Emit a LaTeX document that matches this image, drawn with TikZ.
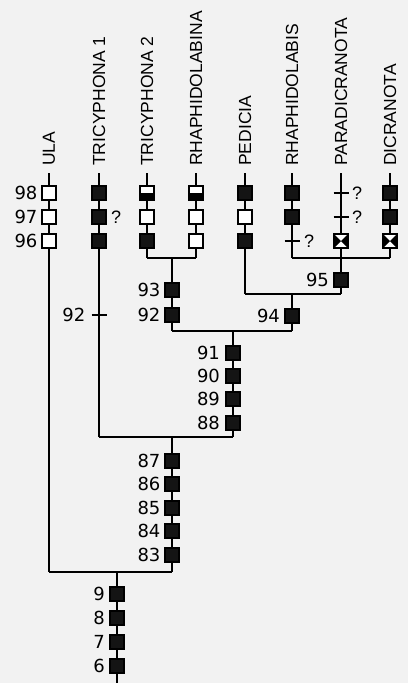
\documentclass[tikz,border=0pt]{standalone}
\usepackage{fontspec}
\setmainfont{Liberation Sans}
\newfontfamily\numfont{DejaVu Sans}
\begin{document}
\begin{tikzpicture}[x=1pt,y=-1pt,
  conn/.style={line width=1.5pt},
  sqbox/.style={rectangle, draw, line width=1.9pt, minimum size=13.8pt, inner sep=0pt},
  fbox/.style={sqbox, fill=black!92},
  obox/.style={sqbox, fill=white},
  hbox/.style={sqbox, fill=white, path picture={\fill[black] (path picture bounding box.west) rectangle (path picture bounding box.south east);}},
  xbox/.style={sqbox, fill=white, path picture={
     \fill[black] (path picture bounding box.north west) -- (path picture bounding box.center) -- (path picture bounding box.south west) -- cycle;
     \fill[black] (path picture bounding box.north east) -- (path picture bounding box.center) -- (path picture bounding box.south east) -- cycle;}},
  taxon/.style={rotate=90, anchor=west, inner sep=0pt, font=\fontsize{17.5}{18}\selectfont},
  num/.style={anchor=east, inner sep=0pt, font=\numfont\fontsize{18}{20}\selectfont},
  qm/.style={anchor=west, inner sep=0pt, font=\fontsize{18}{19}\selectfont},
]
\fill[black!5] (0,0) rectangle (408,683);
\useasboundingbox (0,0) rectangle (408,683);

% taxon labels
\node[taxon] (lULA) at (49,166) {ULA};
\node[taxon] (lT1) at (99,166) {TRICYPHONA 1};
\node[taxon] (lT2) at (147,166) {TRICYPHONA 2};
\node[taxon] (lRB) at (196,166) {RHAPHIDOLABINA};
\node[taxon] (lPE) at (245,166) {PEDICIA};
\node[taxon] (lRS) at (292,166) {RHAPHIDOLABIS};
\node[taxon] (lPA) at (341,166) {PARADICRANOTA};
\node[taxon] (lDI) at (390,166) {DICRANOTA};

% coordinates
\coordinate (tULA) at (49,173);
\coordinate (tT1) at (99,173);
\coordinate (tT2) at (147,173);
\coordinate (tRB) at (196,173);
\coordinate (tPE) at (245,173);
\coordinate (tRS) at (292,173);
\coordinate (tPA) at (341,173);
\coordinate (tDI) at (390,173);

\coordinate (jULA) at (49,572);
\coordinate (jT1) at (99,437);
\coordinate (jT2) at (147,258);
\coordinate (jRB) at (196,258);
\coordinate (jA) at (172,258);
\coordinate (jB) at (172,331);
\coordinate (jPE) at (245,294);
\coordinate (jRS) at (292,258);
\coordinate (jPA) at (341,258);
\coordinate (jDI) at (390,258);
\coordinate (jC) at (341,294);
\coordinate (jD) at (292,294);
\coordinate (jE) at (292,331);
\coordinate (jF) at (233,331);
\coordinate (jG) at (233,437);
\coordinate (jH) at (172,437);
\coordinate (jI) at (172,572);
\coordinate (jJ) at (117,572);
\coordinate (root) at (117,683);

% connectors
\draw[conn] (tULA) -- (jULA);
\draw[conn] (tT1) -- (jT1);
\draw[conn] (tT2) -- (jT2);
\draw[conn] (tRB) -- (jRB);
\draw[conn] (jT2) -- (jRB);
\draw[conn] (jA) -- (jB);
\draw[conn] (tPE) -- (jPE);
\draw[conn] (tRS) -- (jRS);
\draw[conn] (tPA) -- (jC);
\draw[conn] (tDI) -- (jDI);
\draw[conn] (jRS) -- (jDI);
\draw[conn] (jPE) -- (jC);
\draw[conn] (jD) -- (jE);
\draw[conn] (jB) -- (jE);
\draw[conn] (jF) -- (jG);
\draw[conn] (jT1) -- (jG);
\draw[conn] (jH) -- (jI);
\draw[conn] (jULA) -- (jI);
\draw[conn] (jJ) -- (root);

% top rows
\node[obox] (ula98) at (49,193) {};
\node[obox] (ula97) at (49,217) {};
\node[obox] (ula96) at (49,241) {};
\node[num] (l98) at ([xshift=-3.5pt]ula98.west) {98};
\node[num] (l97) at ([xshift=-3.5pt]ula97.west) {97};
\node[num] (l96) at ([xshift=-3.5pt]ula96.west) {96};

\node[fbox] (t198) at (99,193) {};
\node[fbox] (t197) at (99,217) {};
\node[fbox] (t196) at (99,241) {};
\node[qm] (qt1) at ([xshift=4pt]t197.east) {?};

\node[hbox] (t298) at (147,193) {};
\node[obox] (t297) at (147,217) {};
\node[fbox] (t296) at (147,241) {};

\node[hbox] (rb98) at (196,193) {};
\node[obox] (rb97) at (196,217) {};
\node[obox] (rb96) at (196,241) {};

\node[fbox] (pe98) at (245,193) {};
\node[obox] (pe97) at (245,217) {};
\node[fbox] (pe96) at (245,241) {};

\node[fbox] (rs98) at (292,193) {};
\node[fbox] (rs97) at (292,217) {};
\coordinate (rs96) at (292,241);
\draw[conn] ([xshift=-7.5pt]rs96) -- ([xshift=7.5pt]rs96);
\node[qm] (qrs) at ([xshift=12pt]rs96) {?};

\coordinate (pa98) at (341,193);
\coordinate (pa97) at (341,217);
\draw[conn] ([xshift=-7.5pt]pa98) -- ([xshift=7.5pt]pa98);
\draw[conn] ([xshift=-7.5pt]pa97) -- ([xshift=7.5pt]pa97);
\node[qm] (qpa98) at ([xshift=11pt]pa98) {?};
\node[qm] (qpa97) at ([xshift=11pt]pa97) {?};
\node[xbox] (pa96) at (341,241) {};

\node[fbox] (di98) at (390,193) {};
\node[fbox] (di97) at (390,217) {};
\node[xbox] (di96) at (390,241) {};

% internal nodes
\node[fbox] (n93) at (172,290) {};
\node[fbox] (n92) at (172,315) {};
\node[num] (l93) at ([xshift=-3.5pt]n93.west) {93};
\node[num] (l92) at ([xshift=-3.5pt]n92.west) {92};
\coordinate (q92) at (99,315);
\draw[conn] ([xshift=-7.5pt]q92) -- ([xshift=7.5pt]q92);
\node[num] (l92b) at ([xshift=-13.5pt]q92) {92};

\node[fbox] (n95) at (341,280) {};
\node[num] (l95) at ([xshift=-4pt]n95.west) {95};
\node[fbox] (n94) at (292,316) {};
\node[num] (l94) at ([xshift=-4pt]n94.west) {94};

\node[fbox] (n91) at (233,353) {};
\node[fbox] (n90) at (233,376) {};
\node[fbox] (n89) at (233,399) {};
\node[fbox] (n88) at (233,423) {};
\node[num] (l91) at ([xshift=-5pt]n91.west) {91};
\node[num] (l90) at ([xshift=-5pt]n90.west) {90};
\node[num] (l89) at ([xshift=-5pt]n89.west) {89};
\node[num] (l88) at ([xshift=-5pt]n88.west) {88};

\node[fbox] (n87) at (172,461) {};
\node[fbox] (n86) at (172,484) {};
\node[fbox] (n85) at (172,508) {};
\node[fbox] (n84) at (172,531) {};
\node[fbox] (n83) at (172,555) {};
\node[num] (l87) at ([xshift=-3.5pt]n87.west) {87};
\node[num] (l86) at ([xshift=-3.5pt]n86.west) {86};
\node[num] (l85) at ([xshift=-3.5pt]n85.west) {85};
\node[num] (l84) at ([xshift=-3.5pt]n84.west) {84};
\node[num] (l83) at ([xshift=-3.5pt]n83.west) {83};

\node[fbox] (n9) at (117,594) {};
\node[fbox] (n8) at (117,618) {};
\node[fbox] (n7) at (117,642) {};
\node[fbox] (n6) at (117,666) {};
\node[num] (l9) at ([xshift=-4pt]n9.west) {9};
\node[num] (l8) at ([xshift=-4pt]n8.west) {8};
\node[num] (l7) at ([xshift=-4pt]n7.west) {7};
\node[num] (l6) at ([xshift=-4pt]n6.west) {6};
\end{tikzpicture}
\end{document}
